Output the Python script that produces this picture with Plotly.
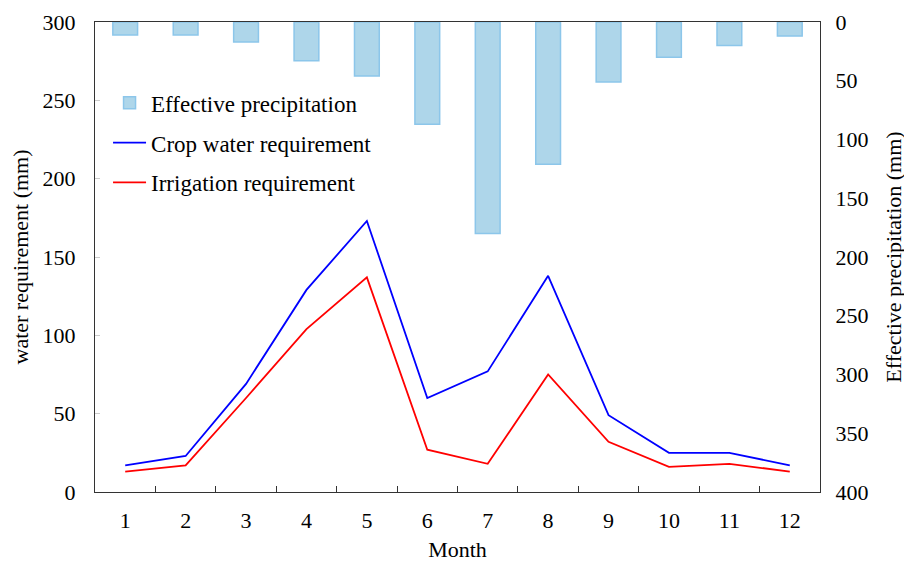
import plotly.graph_objects as go

months = [str(m) for m in range(1, 13)]
effective_precip = [11, 11, 17, 33, 46, 87, 180, 121, 51, 30, 20, 12]
crop_water_req = [17, 23, 69, 129, 173, 60, 77, 138, 49, 25, 25, 17]
irrigation_req = [13, 17, 60, 104, 137, 27, 18, 75, 32, 16, 18, 13]

left_ticks = [0, 50, 100, 150, 200, 250, 300]
right_ticks = [0, 50, 100, 150, 200, 250, 300, 350, 400]

font = "Liberation Serif, Times New Roman, serif"

fig = go.Figure()
fig.add_trace(go.Bar(
    x=months, y=effective_precip, name="Effective precipitation",
    yaxis="y2", width=0.41,
    marker=dict(color="rgb(174,214,234)", line=dict(color="rgb(140,198,234)", width=1.5)),
    legendgroup="a",
))
fig.add_trace(go.Scatter(
    x=months, y=crop_water_req, name="Crop water requirement", mode="lines",
    line=dict(color="rgb(0,0,255)", width=1.8), legendgroup="b",
))
fig.add_trace(go.Scatter(
    x=months, y=irrigation_req, name="Irrigation requirement", mode="lines",
    line=dict(color="rgb(255,0,0)", width=1.8), legendgroup="c",
))

fig.update_layout(
    width=904, height=556,
    margin=dict(l=87, r=92, t=14, b=72),
    paper_bgcolor="white", plot_bgcolor="white",
    font=dict(family=font, size=22, color="black"),
    showlegend=True,
    legend=dict(x=0.018, y=0.874, xanchor="left", yanchor="top",
                bgcolor="rgba(0,0,0,0)", font=dict(size=23, family=font),
                tracegroupgap=7, itemwidth=33, traceorder="grouped"),
    xaxis=dict(
        type="category", range=[-0.5, 11.5], automargin=False,
        showline=True, linecolor="#333", linewidth=1, mirror=True,
        ticks="inside", ticklen=6, tickcolor="#333", tickson="boundaries",
        showgrid=False, zeroline=False, ticklabelstandoff=9,
        title=dict(text="Month", standoff=9, font=dict(size=22)),
        tickfont=dict(size=22),
    ),
    yaxis=dict(
        range=[0, 300], tickvals=left_ticks, automargin=False,
        showline=True, linecolor="#333", linewidth=1,
        ticks="inside", ticklen=5, tickcolor="#ccc",
        showgrid=False, zeroline=False, ticklabelstandoff=14,
        title=dict(text="water requirement (mm)", standoff=20, font=dict(size=22)),
        tickfont=dict(size=22),
    ),
    yaxis2=dict(
        overlaying="y", side="right", range=[400, 0], tickvals=right_ticks,
        automargin=False,
        showline=True, linecolor="#333", linewidth=1,
        ticks="", showgrid=False, zeroline=False, ticklabelstandoff=10,
        title=dict(text="Effective precipitation (mm)", standoff=18, font=dict(size=22)),
        tickfont=dict(size=22),
    ),
    bargap=0.59,
)

fig.write_html("out.html")
